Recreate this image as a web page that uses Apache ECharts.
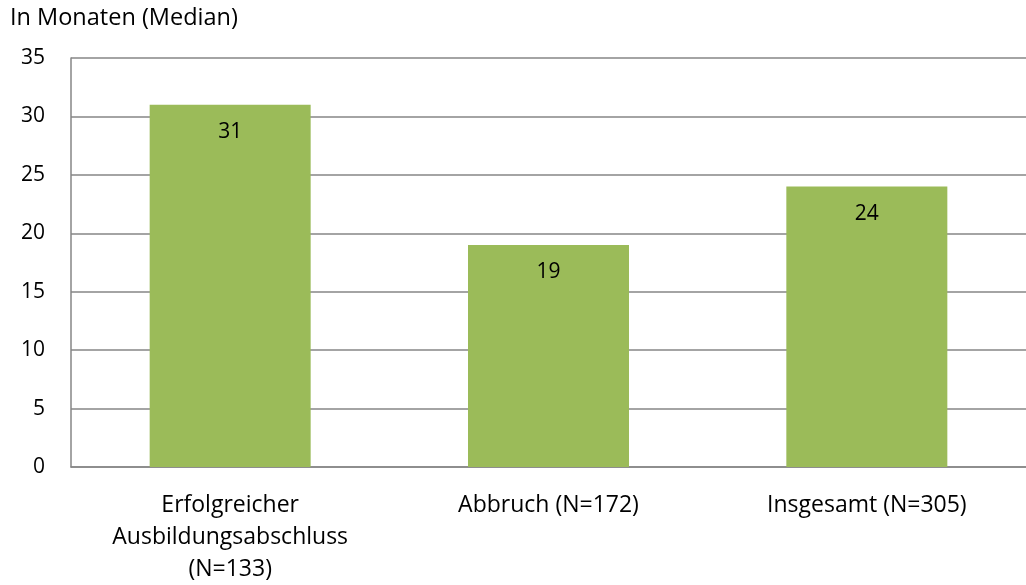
<!DOCTYPE html>
<html><head><meta charset="utf-8">
<script src="https://cdn.jsdelivr.net/npm/echarts@6/dist/echarts.min.js"></script>
<style>html,body{margin:0;padding:0;background:#fff;overflow:hidden}#c{width:1026px;height:585px}</style>
</head><body><div id="c"></div>
<script>
const categories = ["Erfolgreicher\nAusbildungsabschluss\n(N=133)", "Abbruch (N=172)", "Insgesamt (N=305)"];
const values = [31, 19, 24];
const yTitle = "In Monaten (Median)";

const chart = echarts.init(document.getElementById('c'));
const font = "'Open Sans', 'Noto Sans', sans-serif";
const fs = 21, fsText = 23;
chart.setOption({
  animation: false,
  textStyle: {fontFamily: font},
  graphic: [{type: 'text', left: 10, top: 6, style: {text: yTitle, font: "23.5px " + font, fill: '#000'}}],
  grid: {left: 71, top: 58, width: 966, height: 414, containLabel: false},
  xAxis: {
    type: 'category', data: categories,
    axisLine: {lineStyle: {color: '#868686', width: 1.5}},
    axisTick: {show: false},
    axisLabel: {color: '#000', fontSize: fsText, fontFamily: font, lineHeight: 32, margin: 22}
  },
  yAxis: {
    type: 'value', min: 0, max: 35, interval: 5,
    axisLine: {show: true, lineStyle: {color: '#868686', width: 1.5}},
    axisTick: {show: false},
    splitLine: {lineStyle: {color: '#868686', width: 1.5}},
    axisLabel: {color: '#000', fontSize: fs, fontFamily: font, margin: 26}
  },
  series: [{
    type: 'bar', data: values, barWidth: 161,
    itemStyle: {color: '#9BBB59'},
    label: {show: true, position: 'insideTop', distance: 17, color: '#000', fontSize: fs, fontFamily: font}
  }]
});
</script></body></html>
